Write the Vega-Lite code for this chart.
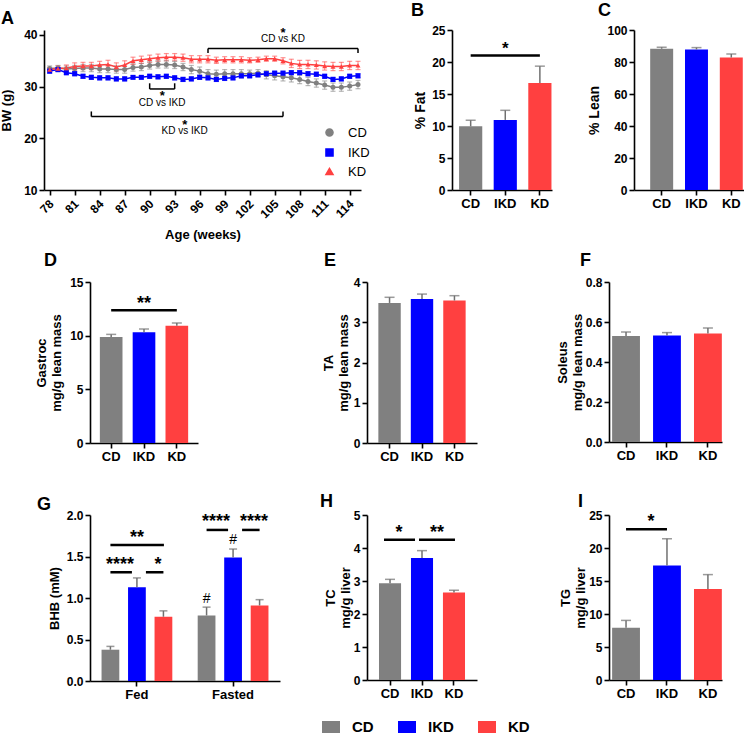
{
"$schema": "https://vega.github.io/schema/vega-lite/v6.json",
"background": "white",
"padding": {"left": 0, "top": 2, "right": 0, "bottom": 0},
"spacing": 0,
"resolve": {"scale": {"color": "independent", "shape": "independent"}, "legend": {"color": "independent", "shape": "independent"}},
"config": {
 "view": {"stroke": null},
 "font": "Liberation Sans",
 "point": {"opacity": 1},
 "axis": {"domainColor": "#000", "domainWidth": 1.6, "tickColor": "#000", "tickWidth": 1.6, "tickSize": 5, "labelColor": "#000", "labelFont": "Liberation Sans", "labelFontWeight": "bold", "labelFontSize": 12, "titleFont": "Liberation Sans", "titleFontWeight": "bold", "titleFontSize": 13, "titleColor": "#000", "grid": false, "labelPadding": 2, "titleLineHeight": 15, "labelOverlap": false},
 "axisX": {"labelFontSize": 13},
 "title": {"anchor": "start", "frame": "group", "font": "Liberation Sans", "fontSize": 18, "fontWeight": "bold", "color": "#000", "baseline": "alphabetic"},
 "legend": {"labelFont": "Liberation Sans", "labelColor": "#000", "symbolOpacity": 1},
 "text": {"font": "Liberation Sans", "color": "#000"}
},
"datasets": {
 "bw": [
  {"w":78,"g":"CD","bw":33.5,"se":0.5},{"w":79,"g":"CD","bw":33.6,"se":0.5},{"w":80,"g":"CD","bw":33.4,"se":0.6},{"w":81,"g":"CD","bw":33.5,"se":0.6},{"w":82,"g":"CD","bw":33.6,"se":0.7},{"w":83,"g":"CD","bw":33.6,"se":0.7},{"w":84,"g":"CD","bw":33.4,"se":0.7},{"w":85,"g":"CD","bw":33.4,"se":0.7},{"w":86,"g":"CD","bw":33.3,"se":0.7},{"w":87,"g":"CD","bw":33.3,"se":0.7},{"w":88,"g":"CD","bw":33.7,"se":0.7},{"w":89,"g":"CD","bw":33.8,"se":0.7},{"w":90,"g":"CD","bw":34.1,"se":0.7},{"w":91,"g":"CD","bw":34.3,"se":0.7},{"w":92,"g":"CD","bw":34.3,"se":0.7},{"w":93,"g":"CD","bw":34.2,"se":0.7},{"w":94,"g":"CD","bw":33.8,"se":0.7},{"w":95,"g":"CD","bw":33.3,"se":0.8},{"w":96,"g":"CD","bw":33.0,"se":0.8},{"w":97,"g":"CD","bw":32.5,"se":0.8},{"w":98,"g":"CD","bw":32.4,"se":0.8},{"w":99,"g":"CD","bw":32.5,"se":0.8},{"w":100,"g":"CD","bw":32.5,"se":0.8},{"w":101,"g":"CD","bw":32.5,"se":0.8},{"w":102,"g":"CD","bw":32.5,"se":0.7},{"w":103,"g":"CD","bw":32.6,"se":0.7},{"w":104,"g":"CD","bw":32.3,"se":0.8},{"w":105,"g":"CD","bw":32.1,"se":0.8},{"w":106,"g":"CD","bw":31.9,"se":0.8},{"w":107,"g":"CD","bw":31.7,"se":0.8},{"w":108,"g":"CD","bw":31.4,"se":0.8},{"w":109,"g":"CD","bw":31.0,"se":0.8},{"w":110,"g":"CD","bw":30.7,"se":0.8},{"w":111,"g":"CD","bw":30.3,"se":0.8},{"w":112,"g":"CD","bw":29.9,"se":0.8},{"w":113,"g":"CD","bw":29.9,"se":0.8},{"w":114,"g":"CD","bw":30.1,"se":0.8},{"w":115,"g":"CD","bw":30.4,"se":0.8},
  {"w":78,"g":"IKD","bw":33.0,"se":0.4},{"w":79,"g":"IKD","bw":33.3,"se":0.4},{"w":80,"g":"IKD","bw":32.7,"se":0.4},{"w":81,"g":"IKD","bw":32.5,"se":0.4},{"w":82,"g":"IKD","bw":32.0,"se":0.4},{"w":83,"g":"IKD","bw":31.8,"se":0.4},{"w":84,"g":"IKD","bw":31.7,"se":0.4},{"w":85,"g":"IKD","bw":31.7,"se":0.4},{"w":86,"g":"IKD","bw":31.5,"se":0.4},{"w":87,"g":"IKD","bw":31.5,"se":0.4},{"w":88,"g":"IKD","bw":31.8,"se":0.3},{"w":89,"g":"IKD","bw":31.8,"se":0.3},{"w":90,"g":"IKD","bw":32.0,"se":0.4},{"w":91,"g":"IKD","bw":31.9,"se":0.4},{"w":92,"g":"IKD","bw":32.0,"se":0.4},{"w":93,"g":"IKD","bw":31.7,"se":0.4},{"w":94,"g":"IKD","bw":31.4,"se":0.4},{"w":95,"g":"IKD","bw":31.5,"se":0.4},{"w":96,"g":"IKD","bw":31.8,"se":0.4},{"w":97,"g":"IKD","bw":31.7,"se":0.4},{"w":98,"g":"IKD","bw":31.4,"se":0.4},{"w":99,"g":"IKD","bw":31.6,"se":0.4},{"w":100,"g":"IKD","bw":31.7,"se":0.4},{"w":101,"g":"IKD","bw":32.1,"se":0.4},{"w":102,"g":"IKD","bw":32.1,"se":0.4},{"w":103,"g":"IKD","bw":32.3,"se":0.4},{"w":104,"g":"IKD","bw":32.5,"se":0.4},{"w":105,"g":"IKD","bw":32.6,"se":0.4},{"w":106,"g":"IKD","bw":32.6,"se":0.4},{"w":107,"g":"IKD","bw":32.7,"se":0.4},{"w":108,"g":"IKD","bw":32.7,"se":0.4},{"w":109,"g":"IKD","bw":32.5,"se":0.4},{"w":110,"g":"IKD","bw":32.4,"se":0.4},{"w":111,"g":"IKD","bw":32.0,"se":0.4},{"w":112,"g":"IKD","bw":31.4,"se":0.4},{"w":113,"g":"IKD","bw":31.5,"se":0.4},{"w":114,"g":"IKD","bw":32.0,"se":0.4},{"w":115,"g":"IKD","bw":32.1,"se":0.4},
  {"w":78,"g":"KD","bw":33.3,"se":0.4},{"w":79,"g":"KD","bw":33.5,"se":0.5},{"w":80,"g":"KD","bw":33.6,"se":0.6},{"w":81,"g":"KD","bw":33.9,"se":0.7},{"w":82,"g":"KD","bw":34.0,"se":0.7},{"w":83,"g":"KD","bw":34.0,"se":0.7},{"w":84,"g":"KD","bw":34.2,"se":0.7},{"w":85,"g":"KD","bw":34.3,"se":0.8},{"w":86,"g":"KD","bw":33.8,"se":0.8},{"w":87,"g":"KD","bw":34.2,"se":0.8},{"w":88,"g":"KD","bw":35.0,"se":0.7},{"w":89,"g":"KD","bw":35.2,"se":0.7},{"w":90,"g":"KD","bw":35.4,"se":0.7},{"w":91,"g":"KD","bw":35.6,"se":0.7},{"w":92,"g":"KD","bw":35.7,"se":0.7},{"w":93,"g":"KD","bw":35.7,"se":0.7},{"w":94,"g":"KD","bw":35.6,"se":0.7},{"w":95,"g":"KD","bw":35.3,"se":0.7},{"w":96,"g":"KD","bw":35.3,"se":0.7},{"w":97,"g":"KD","bw":35.3,"se":0.7},{"w":98,"g":"KD","bw":35.1,"se":0.6},{"w":99,"g":"KD","bw":35.2,"se":0.6},{"w":100,"g":"KD","bw":35.2,"se":0.6},{"w":101,"g":"KD","bw":35.2,"se":0.6},{"w":102,"g":"KD","bw":35.1,"se":0.5},{"w":103,"g":"KD","bw":35.2,"se":0.5},{"w":104,"g":"KD","bw":35.4,"se":0.5},{"w":105,"g":"KD","bw":35.4,"se":0.5},{"w":106,"g":"KD","bw":35.0,"se":0.6},{"w":107,"g":"KD","bw":34.5,"se":0.8},{"w":108,"g":"KD","bw":34.3,"se":0.8},{"w":109,"g":"KD","bw":34.3,"se":0.8},{"w":110,"g":"KD","bw":34.2,"se":0.8},{"w":111,"g":"KD","bw":34.0,"se":0.8},{"w":112,"g":"KD","bw":33.9,"se":0.8},{"w":113,"g":"KD","bw":33.9,"se":0.8},{"w":114,"g":"KD","bw":34.1,"se":0.8},{"w":115,"g":"KD","bw":34.1,"se":0.8}
 ],
 "ann": [
  {"lab":"CD vs IKD","x1":90,"x2":93,"xm":91.5,"y":29.55,"yt":30.65,"ys":28.7,"yl":26.9},
  {"lab":"KD vs IKD","x1":83,"x2":106,"xm":94.2,"y":24.2,"yt":25.2,"ys":23.2,"yl":21.4},
  {"lab":"CD vs KD","x1":97,"x2":115,"xm":106,"y":37.4,"yt":36.5,"ys":40.9,"yl":39.2}
 ],
 "wk": [{"t":78},{"t":81},{"t":84},{"t":87},{"t":90},{"t":93},{"t":96},{"t":99},{"t":102},{"t":105},{"t":108},{"t":111},{"t":114}]
},
"vconcat": [
 {
  "hconcat": [
   {"width": 43, "height": 222, "data": {"values": []}, "mark": "point"},
   {
    "width": 317, "height": 160,
    "title": {"text": "A", "dx": -43, "offset": -1},
    "layer": [
     {"data": {"name": "bw"},
      "mark": {"type": "line", "strokeWidth": 1.5},
      "encoding": {
       "x": {"field": "w", "type": "quantitative", "title": "Age (weeks)", "scale": {"domain": [77.32, 115.36], "nice": false, "zero": false}, "axis": {"title": "Age (weeks)", "values": [78,81,84,87,90,93,96,99,102,105,108,111,114], "tickCount": 40, "labels": false, "titlePadding": 33}},
       "y": {"field": "bw", "type": "quantitative", "title": "BW (g)", "scale": {"domain": [10, 40.96], "nice": false, "zero": false}, "axis": {"title": "BW (g)", "values": [10,20,30,40], "format": "d", "tickCount": 40, "titlePadding": 10}},
       "color": {"field": "g", "type": "nominal", "scale": {"domain": ["CD","IKD","KD"], "range": ["#808080","#0000FF","#FF4040"]}}
      }},
     {"data": {"name": "bw"},
      "mark": {"type": "errorbar", "ticks": {"opacity": 0.55}, "rule": {"opacity": 0.55}, "thickness": 1.2},
      "encoding": {
       "x": {"field": "w", "type": "quantitative", "title": "Age (weeks)"},
       "y": {"field": "bw", "type": "quantitative", "title": "BW (g)"},
       "yError": {"field": "se"},
       "color": {"field": "g", "type": "nominal"}
      }},
     {"data": {"name": "bw"},
      "mark": {"type": "point", "filled": true, "size": 25, "opacity": 1},
      "encoding": {
       "x": {"field": "w", "type": "quantitative", "title": "Age (weeks)"},
       "y": {"field": "bw", "type": "quantitative", "title": "BW (g)"},
       "color": {"field": "g", "type": "nominal", "legend": {"orient": "none", "legendX": 279, "legendY": 96, "title": null, "labelFontSize": 13, "labelFontWeight": "normal", "labelOffset": 12, "rowPadding": 5, "symbolSize": 50, "symbolOpacity": 1, "padding": 0}},
       "shape": {"field": "g", "type": "nominal", "scale": {"domain": ["CD","IKD","KD"], "range": ["circle","square","triangle-up"]}, "legend": {"orient": "none", "legendX": 279, "legendY": 96, "title": null, "labelFontSize": 13, "labelFontWeight": "normal", "labelOffset": 12, "rowPadding": 5, "symbolSize": 50, "symbolOpacity": 1, "padding": 0}}
      }},
     {"data": {"name": "wk"},
      "mark": {"type": "text", "angle": 315, "align": "right", "baseline": "middle", "fontSize": 12, "fontWeight": "bold", "xOffset": 2, "yOffset": 12},
      "encoding": {"x": {"field": "t", "type": "quantitative", "title": "Age (weeks)"}, "y": {"datum": 10, "type": "quantitative"}, "text": {"field": "t", "type": "quantitative", "format": "d"}}},
     {"data": {"name": "ann"},
      "mark": {"type": "rule", "color": "#000", "strokeWidth": 1.5},
      "encoding": {"x": {"field": "x1", "type": "quantitative", "title": "Age (weeks)"}, "x2": {"field": "x2"}, "y": {"field": "y", "type": "quantitative", "title": "BW (g)"}}},
     {"data": {"name": "ann"},
      "mark": {"type": "rule", "color": "#000", "strokeWidth": 1.5},
      "encoding": {"x": {"field": "x1", "type": "quantitative", "title": "Age (weeks)"}, "y": {"field": "y", "type": "quantitative", "title": "BW (g)"}, "y2": {"field": "yt"}}},
     {"data": {"name": "ann"},
      "mark": {"type": "rule", "color": "#000", "strokeWidth": 1.5},
      "encoding": {"x": {"field": "x2", "type": "quantitative", "title": "Age (weeks)"}, "y": {"field": "y", "type": "quantitative", "title": "BW (g)"}, "y2": {"field": "yt"}}},
     {"data": {"name": "ann"},
      "mark": {"type": "text", "fontSize": 13, "fontWeight": "bold", "baseline": "middle", "dy": 3},
      "encoding": {"x": {"field": "xm", "type": "quantitative", "title": "Age (weeks)"}, "y": {"field": "ys", "type": "quantitative", "title": "BW (g)"}, "text": {"value": "*"}}},
     {"data": {"name": "ann"},
      "mark": {"type": "text", "fontSize": 10, "baseline": "middle"},
      "encoding": {"x": {"field": "xm", "type": "quantitative", "title": "Age (weeks)"}, "y": {"field": "yl", "type": "quantitative", "title": "BW (g)"}, "text": {"field": "lab"}}}
    ]
   },
   {"width": 91, "height": 1, "data": {"values": []}, "mark": "point"},
   {
    "width": 100, "height": 160,
    "title": {"text": "B", "dx": -41, "offset": 4},
    "data": {"values": [{"d":"CD","m":9.95,"u":10.9},{"d":"IKD","m":10.95,"u":12.45},{"d":"KD","m":16.7,"u":19.35}]},
    "layer": [
     {"mark": {"type": "bar"},
      "encoding": {
       "x": {"field": "d", "type": "nominal", "sort": null, "scale": {"domain": ["CD","IKD","KD"], "paddingInner": 0.33, "paddingOuter": 0.11, "align": 0.93}, "axis": {"title": null, "labelAngle": 0}},
       "y": {"field": "m", "type": "quantitative", "scale": {"domain": [0, 25], "nice": false}, "axis": {"title": "% Fat", "values": [0,5,10,15,20,25], "format": "d", "tickCount": 40, "titlePadding": 4, "titleFontSize": 14}},
       "color": {"field": "d", "type": "nominal", "scale": {"domain": ["CD","IKD","KD"], "range": ["#808080","#0000FF","#FF4040"]}, "legend": null}}},
     {"mark": {"type": "rule", "color": "#707070", "strokeWidth": 1.5},
      "encoding": {"x": {"field": "d", "type": "nominal"}, "y": {"field": "m", "type": "quantitative"}, "y2": {"field": "u"}}},
     {"mark": {"type": "tick", "color": "#707070", "thickness": 1.5, "size": 10},
      "encoding": {"x": {"field": "d", "type": "nominal"}, "y": {"field": "u", "type": "quantitative"}}},
     {"data": {"values": [{"d":"CD","d2":"KD","y":21.0}]},
      "mark": {"type": "rule", "color": "#000", "strokeWidth": 2.5},
      "encoding": {"x": {"field": "d", "type": "nominal"}, "x2": {"field": "d2"}, "y": {"field": "y", "type": "quantitative"}}},
     {"data": {"values": [{"d":"IKD","y":22.6,"t":"*"}]},
      "mark": {"type": "text", "fontSize": 17, "fontWeight": "bold", "baseline": "middle", "dy": 4},
      "encoding": {"x": {"field": "d", "type": "nominal"}, "y": {"field": "y", "type": "quantitative"}, "text": {"field": "t"}}}
    ]
   },
   {"width": 82, "height": 1, "data": {"values": []}, "mark": "point"},
   {
    "width": 110, "height": 160,
    "title": {"text": "C", "dx": -36, "offset": 4},
    "data": {"values": [{"d":"CD","m":88.3,"u":89.2},{"d":"IKD","m":87.8,"u":89.0},{"d":"KD","m":82.8,"u":85.0}]},
    "layer": [
     {"mark": {"type": "bar"},
      "encoding": {
       "x": {"field": "d", "type": "nominal", "sort": null, "scale": {"domain": ["CD","IKD","KD"], "paddingInner": 0.34, "paddingOuter": 0.25, "align": 0.93}, "axis": {"title": null, "labelAngle": 0}},
       "y": {"field": "m", "type": "quantitative", "scale": {"domain": [0, 100], "nice": false}, "axis": {"title": "% Lean", "values": [0,20,40,60,80,100], "format": "d", "tickCount": 40, "titlePadding": 5, "titleFontSize": 14}},
       "color": {"field": "d", "type": "nominal", "scale": {"domain": ["CD","IKD","KD"], "range": ["#808080","#0000FF","#FF4040"]}, "legend": null}}},
     {"mark": {"type": "rule", "color": "#707070", "strokeWidth": 1.5},
      "encoding": {"x": {"field": "d", "type": "nominal"}, "y": {"field": "m", "type": "quantitative"}, "y2": {"field": "u"}}},
     {"mark": {"type": "tick", "color": "#707070", "thickness": 1.5, "size": 10},
      "encoding": {"x": {"field": "d", "type": "nominal"}, "y": {"field": "u", "type": "quantitative"}}}
    ]
   }
  ],
  "spacing": 0,
  "bounds": "flush",
  "resolve": {"scale": {"color": "independent", "shape": "independent"}, "legend": {"color": "independent", "shape": "independent"}}
 },
 {
  "concat": [
   {"width": 89, "height": 233, "data": {"values": []}, "mark": "point"},
   {
    "width": 108, "height": 161,
    "title": {"text": "D", "dx": -46, "offset": 6},
    "data": {"values": [{"d":"CD","m":9.88,"u":10.12},{"d":"IKD","m":10.31,"u":10.62},{"d":"KD","m":10.93,"u":11.18}]},
    "layer": [
     {"mark": {"type": "bar"},
      "encoding": {
       "x": {"field": "d", "type": "nominal", "sort": null, "scale": {"domain": ["CD","IKD","KD"], "paddingInner": 0.31, "paddingOuter": 0.3}, "axis": {"title": null, "labelAngle": 0}},
       "y": {"field": "m", "type": "quantitative", "scale": {"domain": [0, 15], "nice": false}, "axis": {"title": ["Gastroc", "mg/g lean mass"], "values": [0,5,10,15], "format": "d", "tickCount": 40, "titlePadding": 6}},
       "color": {"field": "d", "type": "nominal", "scale": {"domain": ["CD","IKD","KD"], "range": ["#808080","#0000FF","#FF4040"]}, "legend": null}}},
     {"mark": {"type": "rule", "color": "#707070", "strokeWidth": 1.5},
      "encoding": {"x": {"field": "d", "type": "nominal"}, "y": {"field": "m", "type": "quantitative"}, "y2": {"field": "u"}}},
     {"mark": {"type": "tick", "color": "#707070", "thickness": 1.5, "size": 10},
      "encoding": {"x": {"field": "d", "type": "nominal"}, "y": {"field": "u", "type": "quantitative"}}},
     {"data": {"values": [{"d":"CD","d2":"KD","y":12.36}]},
      "mark": {"type": "rule", "color": "#000", "strokeWidth": 2.5},
      "encoding": {"x": {"field": "d", "type": "nominal"}, "x2": {"field": "d2"}, "y": {"field": "y", "type": "quantitative"}}},
     {"data": {"values": [{"d":"IKD","y":13.36,"t":"**"}]},
      "mark": {"type": "text", "fontSize": 18, "fontWeight": "bold", "baseline": "middle", "dy": 4},
      "encoding": {"x": {"field": "d", "type": "nominal"}, "y": {"field": "y", "type": "quantitative"}, "text": {"field": "t"}}}
    ]
   },
   {"width": 1, "height": 1, "data": {"values": []}, "mark": "point"},
   {
    "width": 110, "height": 161,
    "title": {"text": "E", "dx": -43, "offset": 6},
    "data": {"values": [{"d":"CD","m":3.48,"u":3.62},{"d":"IKD","m":3.58,"u":3.70},{"d":"KD","m":3.54,"u":3.66}]},
    "layer": [
     {"mark": {"type": "bar"},
      "encoding": {
       "x": {"field": "d", "type": "nominal", "sort": null, "scale": {"domain": ["CD","IKD","KD"], "paddingInner": 0.31, "paddingOuter": 0.35}, "axis": {"title": null, "labelAngle": 0}},
       "y": {"field": "m", "type": "quantitative", "scale": {"domain": [0, 4], "nice": false}, "axis": {"title": ["TA", "mg/g lean mass"], "values": [0,1,2,3,4], "format": "d", "tickCount": 40, "titlePadding": 3}},
       "color": {"field": "d", "type": "nominal", "scale": {"domain": ["CD","IKD","KD"], "range": ["#808080","#0000FF","#FF4040"]}, "legend": null}}},
     {"mark": {"type": "rule", "color": "#707070", "strokeWidth": 1.5},
      "encoding": {"x": {"field": "d", "type": "nominal"}, "y": {"field": "m", "type": "quantitative"}, "y2": {"field": "u"}}},
     {"mark": {"type": "tick", "color": "#707070", "thickness": 1.5, "size": 10},
      "encoding": {"x": {"field": "d", "type": "nominal"}, "y": {"field": "u", "type": "quantitative"}}}
    ]
   },
   {"width": 132, "height": 1, "data": {"values": []}, "mark": "point"},
   {
    "width": 113, "height": 160,
    "title": {"text": "F", "dx": -29, "offset": 6},
    "data": {"values": [{"d":"CD","m":0.530,"u":0.550},{"d":"IKD","m":0.532,"u":0.547},{"d":"KD","m":0.542,"u":0.570}]},
    "layer": [
     {"mark": {"type": "bar"},
      "encoding": {
       "x": {"field": "d", "type": "nominal", "sort": null, "scale": {"domain": ["CD","IKD","KD"], "paddingInner": 0.32, "paddingOuter": 0.04, "align": 0.95}, "axis": {"title": null, "labelAngle": 0}},
       "y": {"field": "m", "type": "quantitative", "scale": {"domain": [0, 0.8], "nice": false}, "axis": {"title": ["Soleus", "mg/g lean mass"], "values": [0,0.2,0.4,0.6,0.8], "tickCount": 40, "format": ".1f", "titlePadding": 1}},
       "color": {"field": "d", "type": "nominal", "scale": {"domain": ["CD","IKD","KD"], "range": ["#808080","#0000FF","#FF4040"]}, "legend": null}}},
     {"mark": {"type": "rule", "color": "#707070", "strokeWidth": 1.5},
      "encoding": {"x": {"field": "d", "type": "nominal"}, "y": {"field": "m", "type": "quantitative"}, "y2": {"field": "u"}}},
     {"mark": {"type": "tick", "color": "#707070", "thickness": 1.5, "size": 10},
      "encoding": {"x": {"field": "d", "type": "nominal"}, "y": {"field": "u", "type": "quantitative"}}}
    ]
   },
   {"width": 89, "height": 1, "data": {"values": []}, "mark": "point"},
   {
    "width": 190, "height": 166,
    "title": {"text": "G", "dx": -53, "offset": -5},
    "data": {"values": [
     {"c":"Fed","d":"CD","m":0.377,"u":0.417},{"c":"Fed","d":"IKD","m":1.131,"u":1.242},{"c":"Fed","d":"KD","m":0.774,"u":0.845},
     {"c":"Fasted","d":"CD","m":0.79,"u":0.89},{"c":"Fasted","d":"IKD","m":1.489,"u":1.59},{"c":"Fasted","d":"KD","m":0.91,"u":0.98}]},
    "layer": [
     {"mark": {"type": "bar"},
      "encoding": {
       "x": {"field": "c", "type": "nominal", "sort": null, "scale": {"domain": ["Fed","Fasted"], "paddingInner": 0.264, "paddingOuter": 0.12}, "axis": {"title": null, "labelAngle": 0}},
       "xOffset": {"field": "d", "type": "nominal", "sort": null, "scale": {"domain": ["CD","IKD","KD"], "paddingInner": 0.33, "paddingOuter": 0}},
       "y": {"field": "m", "type": "quantitative", "scale": {"domain": [0, 2], "nice": false}, "axis": {"title": "BHB (mM)", "values": [0,0.5,1,1.5,2], "tickCount": 40, "format": ".1f", "titlePadding": 5}},
       "color": {"field": "d", "type": "nominal", "scale": {"domain": ["CD","IKD","KD"], "range": ["#808080","#0000FF","#FF4040"]}, "legend": null}}},
     {"mark": {"type": "rule", "color": "#707070", "strokeWidth": 1.5},
      "encoding": {"x": {"field": "c", "type": "nominal"}, "xOffset": {"field": "d", "type": "nominal"}, "y": {"field": "m", "type": "quantitative"}, "y2": {"field": "u"}}},
     {"mark": {"type": "tick", "color": "#707070", "thickness": 1.5, "size": 8},
      "encoding": {"x": {"field": "c", "type": "nominal"}, "xOffset": {"field": "d", "type": "nominal"}, "y": {"field": "u", "type": "quantitative"}}},
     {"data": {"values": [{"c":"Fed","d":"CD","y":1.31},{"c":"Fasted","d":"CD","y":1.82}]},
      "mark": {"type": "rule", "color": "#000", "strokeWidth": 2.5, "x2Offset": -5},
      "encoding": {"x": {"field": "c", "type": "nominal"}, "xOffset": {"field": "d", "type": "nominal"}, "x2": {"field": "c"}, "y": {"field": "y", "type": "quantitative"}}},
     {"data": {"values": [{"c":"Fed","d":"KD","y":1.31},{"c":"Fasted","d":"KD","y":1.82}]},
      "mark": {"type": "rule", "color": "#000", "strokeWidth": 2.5, "x2Offset": 9},
      "encoding": {"x": {"field": "c", "type": "nominal"}, "xOffset": {"field": "d", "type": "nominal"}, "x2": {"field": "c"}, "y": {"field": "y", "type": "quantitative"}}},
     {"data": {"values": [{"c":"Fed","d":"CD","y":1.64}]},
      "mark": {"type": "rule", "color": "#000", "strokeWidth": 2.5, "x2Offset": 27},
      "encoding": {"x": {"field": "c", "type": "nominal"}, "xOffset": {"field": "d", "type": "nominal"}, "x2": {"field": "c"}, "y": {"field": "y", "type": "quantitative"}}},
     {"data": {"values": [{"c":"Fed","d":"IKD","y":1.77,"t":"**"}]},
      "mark": {"type": "text", "fontSize": 18, "fontWeight": "bold", "baseline": "middle", "dy": 4},
      "encoding": {"x": {"field": "c", "type": "nominal"}, "xOffset": {"field": "d", "type": "nominal"}, "y": {"field": "y", "type": "quantitative"}, "text": {"field": "t"}}},
     {"data": {"values": [{"c":"Fed","d":"IKD","y":1.45,"t":"****"},{"c":"Fasted","d":"IKD","y":1.96,"t":"****"}]},
      "mark": {"type": "text", "fontSize": 18, "fontWeight": "bold", "baseline": "middle", "dy": 4, "dx": -17},
      "encoding": {"x": {"field": "c", "type": "nominal"}, "xOffset": {"field": "d", "type": "nominal"}, "y": {"field": "y", "type": "quantitative"}, "text": {"field": "t"}}},
     {"data": {"values": [{"c":"Fed","d":"IKD","y":1.45,"t":"*"},{"c":"Fasted","d":"IKD","y":1.96,"t":"****"}]},
      "mark": {"type": "text", "fontSize": 18, "fontWeight": "bold", "baseline": "middle", "dy": 4, "dx": 21},
      "encoding": {"x": {"field": "c", "type": "nominal"}, "xOffset": {"field": "d", "type": "nominal"}, "y": {"field": "y", "type": "quantitative"}, "text": {"field": "t"}}},
     {"data": {"values": [{"c":"Fasted","d":"CD","y":0.99,"t":"#"},{"c":"Fasted","d":"IKD","y":1.70,"t":"#"}]},
      "mark": {"type": "text", "fontSize": 14, "baseline": "middle"},
      "encoding": {"x": {"field": "c", "type": "nominal"}, "xOffset": {"field": "d", "type": "nominal"}, "y": {"field": "y", "type": "quantitative"}, "text": {"field": "t"}}}
    ]
   },
   {"width": 87, "height": 1, "data": {"values": []}, "mark": "point"},
   {
    "width": 110, "height": 165,
    "title": {"text": "H", "dx": -47, "offset": -2},
    "data": {"values": [{"d":"CD","m":2.93,"u":3.05},{"d":"IKD","m":3.70,"u":3.92},{"d":"KD","m":2.65,"u":2.72}]},
    "layer": [
     {"mark": {"type": "bar"},
      "encoding": {
       "x": {"field": "d", "type": "nominal", "sort": null, "scale": {"domain": ["CD","IKD","KD"], "paddingInner": 0.31, "paddingOuter": 0.375}, "axis": {"title": null, "labelAngle": 0}},
       "y": {"field": "m", "type": "quantitative", "scale": {"domain": [0, 5], "nice": false}, "axis": {"title": ["TC", "mg/g liver"], "values": [0,1,2,3,4,5], "format": "d", "tickCount": 40, "titlePadding": 1}},
       "color": {"field": "d", "type": "nominal", "scale": {"domain": ["CD","IKD","KD"], "range": ["#808080","#0000FF","#FF4040"]}, "legend": {"orient": "none", "legendX": -45, "legendY": 203, "direction": "horizontal", "title": null, "symbolType": "M-1,-0.667H1V0.667H-1Z", "symbolSize": 324, "symbolStrokeWidth": 0, "labelFontSize": 15, "labelFontWeight": "bold", "labelOffset": 12, "columnPadding": 24, "padding": 0}}}},
     {"mark": {"type": "rule", "color": "#707070", "strokeWidth": 1.5},
      "encoding": {"x": {"field": "d", "type": "nominal"}, "y": {"field": "m", "type": "quantitative"}, "y2": {"field": "u"}}},
     {"mark": {"type": "tick", "color": "#707070", "thickness": 1.5, "size": 10},
      "encoding": {"x": {"field": "d", "type": "nominal"}, "y": {"field": "u", "type": "quantitative"}}},
     {"data": {"values": [{"d":"CD","d2":"IKD","y":4.25}]},
      "mark": {"type": "rule", "color": "#000", "strokeWidth": 2.5, "xOffset": -6, "x2Offset": -7},
      "encoding": {"x": {"field": "d", "type": "nominal"}, "x2": {"field": "d2"}, "y": {"field": "y", "type": "quantitative"}}},
     {"data": {"values": [{"d":"IKD","d2":"KD","y":4.25}]},
      "mark": {"type": "rule", "color": "#000", "strokeWidth": 2.5, "xOffset": -3, "x2Offset": 1},
      "encoding": {"x": {"field": "d", "type": "nominal"}, "x2": {"field": "d2"}, "y": {"field": "y", "type": "quantitative"}}},
     {"data": {"values": [{"d":"IKD","y":4.59,"t":"*"}]},
      "mark": {"type": "text", "fontSize": 18, "fontWeight": "bold", "baseline": "middle", "dy": 4, "dx": -23},
      "encoding": {"x": {"field": "d", "type": "nominal"}, "y": {"field": "y", "type": "quantitative"}, "text": {"field": "t"}}},
     {"data": {"values": [{"d":"IKD","y":4.59,"t":"**"}]},
      "mark": {"type": "text", "fontSize": 18, "fontWeight": "bold", "baseline": "middle", "dy": 4, "dx": 15},
      "encoding": {"x": {"field": "d", "type": "nominal"}, "y": {"field": "y", "type": "quantitative"}, "text": {"field": "t"}}}
    ]
   },
   {"width": 132, "height": 1, "data": {"values": []}, "mark": "point"},
   {
    "width": 113, "height": 165,
    "title": {"text": "I", "dx": -31, "offset": -2},
    "data": {"values": [{"d":"CD","m":7.9,"u":9.03},{"d":"IKD","m":17.35,"u":21.4},{"d":"KD","m":13.8,"u":15.97}]},
    "layer": [
     {"mark": {"type": "bar"},
      "encoding": {
       "x": {"field": "d", "type": "nominal", "sort": null, "scale": {"domain": ["CD","IKD","KD"], "paddingInner": 0.32, "paddingOuter": 0.04, "align": 0.95}, "axis": {"title": null, "labelAngle": 0}},
       "y": {"field": "m", "type": "quantitative", "scale": {"domain": [0, 25], "nice": false}, "axis": {"title": ["TG", "mg/g liver"], "values": [0,5,10,15,20,25], "format": "d", "tickCount": 40, "titlePadding": 1}},
       "color": {"field": "d", "type": "nominal", "scale": {"domain": ["CD","IKD","KD"], "range": ["#808080","#0000FF","#FF4040"]}, "legend": null}}},
     {"mark": {"type": "rule", "color": "#707070", "strokeWidth": 1.5},
      "encoding": {"x": {"field": "d", "type": "nominal"}, "y": {"field": "m", "type": "quantitative"}, "y2": {"field": "u"}}},
     {"mark": {"type": "tick", "color": "#707070", "thickness": 1.5, "size": 10},
      "encoding": {"x": {"field": "d", "type": "nominal"}, "y": {"field": "u", "type": "quantitative"}}},
     {"data": {"values": [{"d":"CD","d2":"IKD","y":22.85}]},
      "mark": {"type": "rule", "color": "#000", "strokeWidth": 2.5},
      "encoding": {"x": {"field": "d", "type": "nominal"}, "x2": {"field": "d2"}, "y": {"field": "y", "type": "quantitative"}}},
     {"data": {"values": [{"d":"IKD","y":24.5,"t":"*"}]},
      "mark": {"type": "text", "fontSize": 18, "fontWeight": "bold", "baseline": "middle", "dy": 4, "dx": -16},
      "encoding": {"x": {"field": "d", "type": "nominal"}, "y": {"field": "y", "type": "quantitative"}, "text": {"field": "t"}}}
    ]
   }
  ],
  "columns": 6,
  "spacing": 0,
  "bounds": "flush",
  "align": "each",
  "resolve": {"scale": {"color": "independent", "shape": "independent"}, "legend": {"color": "independent", "shape": "independent"}}
 }
]
}
